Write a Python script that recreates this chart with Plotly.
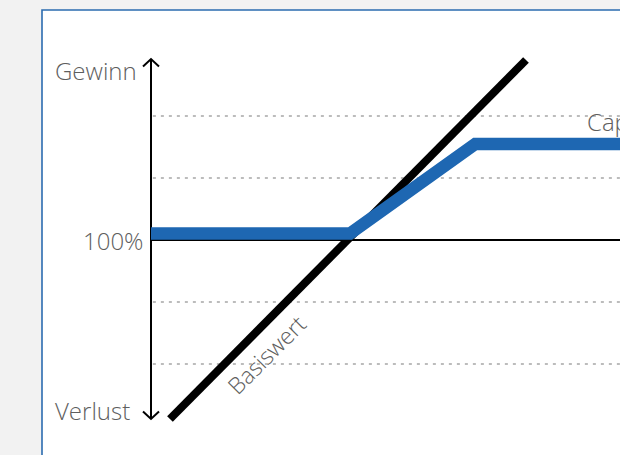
import plotly.graph_objects as go

# ---- data (chart units: 1 unit = one grid step) ----
grid_levels = [-2, -1, 1, 2]
axis_y_range = [-2.887, 2.919]          # vertical arrow axis extent
axis_x_right = 8.0                       # horizontal 100% line extends to the right

basis_x = [0.306, 6.048]                 # Basiswert (underlying)
basis_y = [-2.887, 2.903]

cap_x = [0.0, 3.21, 5.23, 8.0]           # Cap product payoff
cap_y = [0.105, 0.105, 1.55, 1.55]

labels_left = ["Gewinn", "100%", "Verlust"]
labels_left_y = [2.742, 0.0, -2.742]
labels_left_shift = [-12, -6, -19]

TEXT_COLOR = "#5e5e5e"
BLUE = "#1e67b2"
FONT = "Open Sans"
FS = 24

fig = go.Figure()

# dotted grid lines
for g in grid_levels:
    fig.add_trace(go.Scatter(x=[0.03, axis_x_right], y=[g, g], mode="lines",
                             line=dict(color="#a6a6a6", width=1.6, dash="3px,5px"),
                             hoverinfo="skip"))

# horizontal 100% line
fig.add_trace(go.Scatter(x=[0, axis_x_right], y=[0, 0], mode="lines",
                         line=dict(color="black", width=2), hoverinfo="skip"))

# vertical axis with open arrowheads
ax_x = 0.0
fig.add_trace(go.Scatter(x=[ax_x, ax_x], y=axis_y_range, mode="lines",
                         line=dict(color="black", width=2), hoverinfo="skip"))
aw, ah = 8 / 62, 7.5 / 62
top, bot = axis_y_range[1], axis_y_range[0]
fig.add_trace(go.Scatter(x=[ax_x - aw, ax_x, ax_x + aw], y=[top - ah, top, top - ah], mode="lines",
                         line=dict(color="black", width=2), hoverinfo="skip"))
fig.add_trace(go.Scatter(x=[ax_x - aw, ax_x, ax_x + aw], y=[bot + ah, bot, bot + ah], mode="lines",
                         line=dict(color="black", width=2), hoverinfo="skip"))

# Basiswert line
fig.add_trace(go.Scatter(x=basis_x, y=basis_y, mode="lines",
                         line=dict(color="black", width=8), hoverinfo="skip"))

# Cap payoff
fig.add_trace(go.Scatter(x=cap_x, y=cap_y, mode="lines",
                         line=dict(color=BLUE, width=12.5), hoverinfo="skip"))

# left labels
for t, yy, sh in zip(labels_left, labels_left_y, labels_left_shift):
    fig.add_annotation(x=ax_x, y=yy, text=t, showarrow=False, xanchor="right",
                       yanchor="middle", xshift=sh,
                       font=dict(family=FONT, size=FS, color=TEXT_COLOR, weight=300))

fig.add_annotation(x=7.0, y=1.911, text="Cap", showarrow=False, xanchor="left",
                   yanchor="middle",
                   font=dict(family=FONT, size=FS, color=TEXT_COLOR, weight=300))
fig.add_annotation(x=1.855, y=-1.855, text="Basiswert", showarrow=False, textangle=-45,
                   font=dict(family=FONT, size=FS - 1, color=TEXT_COLOR, weight=300))

# white panel with blue border
fig.add_shape(type="rect", xref="paper", yref="paper",
              x0=42 / 620, x1=1.2, y0=-0.2, y1=1 - 10 / 455,
              fillcolor="white", line=dict(color="#2b6cb0", width=1.6), layer="below")

fig.update_layout(
    width=620, height=455, margin=dict(l=0, r=0, t=0, b=0),
    paper_bgcolor="#f2f2f2", plot_bgcolor="rgba(0,0,0,0)",
    showlegend=False,
    xaxis=dict(range=[-151 / 62, 469 / 62], visible=False, fixedrange=True),
    yaxis=dict(range=[-215 / 62, 240 / 62], visible=False, fixedrange=True),
)

fig.write_html("out.html")
